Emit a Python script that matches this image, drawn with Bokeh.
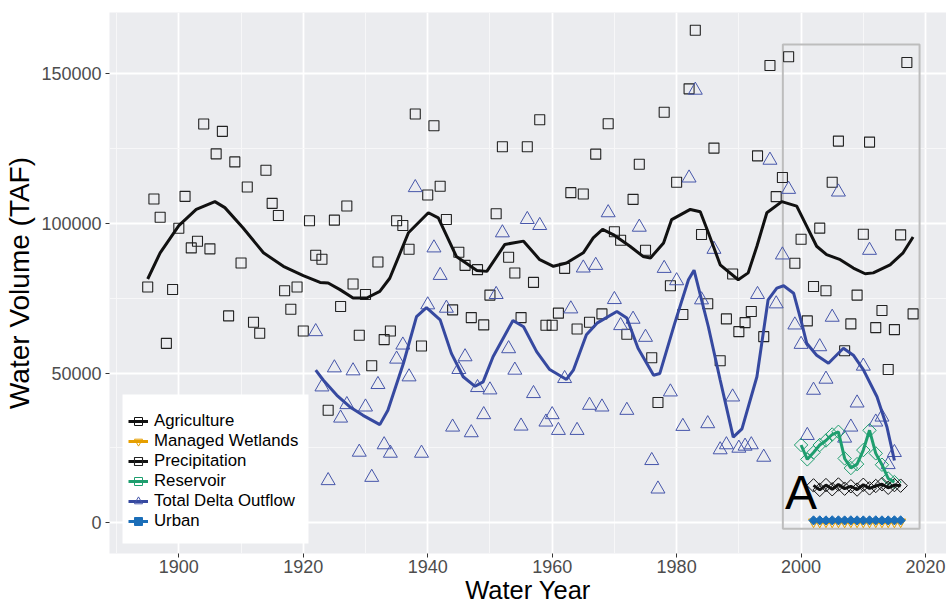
import numpy as np
from bokeh.plotting import figure
from bokeh.models import (Range1d, FixedTicker, Legend, LegendItem, Label,
                          NumeralTickFormatter, BoxAnnotation)
from bokeh.embed import file_html
from bokeh.resources import INLINE

# ---------------- data ----------------
precip_years = list(range(1895, 2019))
precip_values = [
    78760, 108160, 102100, 59960, 77960, 98430, 109070, 91850, 94070, 133230,
    91520, 123270, 130780, 69130, 120580, 86820, 112200, 67010, 63310, 117800,
    106720, 102690, 77520, 71370, 78760, 64100, 100900, 89380, 88040, 37590,
    101120, 72260, 105820, 79760, 62640, 76290, 52460, 87150, 61200, 64100,
    100900, 99340, 91390, 136590, 59070, 109510, 132670, 112430, 101350, 71150,
    90380, 86020, 68560, 84570, 66110, 76080, 103260, 125620, 88700, 83460,
    68560, 125620, 80310, 134680, 66010, 66010, 70040, 85010, 110300, 64770,
    109850, 67010, 123170, 69800, 133340, 97220, 94400, 62990, 108060, 119810,
    91050, 55140, 40170, 137160, 79200, 113770, 69580, 144980, 164550, 96320,
    73160, 125180, 54130, 68130, 83120, 63870, 66890, 70590, 122600, 62200,
    152800, 108960, 115340, 155720, 86690, 94740, 67460, 78970, 98440, 77520,
    113770, 127530, 57500, 66450, 76080, 96420, 127190, 65210, 70920, 51240,
    64540, 96200, 153810, 69800]

outflow_years = list(range(1922, 2016))
outflow_values = [
    63870, 45410, 14100, 51780, 35000, 39500, 50780, 23600, 38700, 15200,
    46210, 26080, 23260, 54700, 59400, 48770, 111990, 23260, 72830, 91850,
    82660, 71710, 31990, 51240, 55480, 30100, 45200, 36140, 44410, 76290,
    96890, 58170, 51010, 32330, 101350, 43190, 99340, 33670, 36140, 30880,
    48210, 71480, 30880, 85140, 39270, 86020, 38700, 103600, 74600, 65890,
    37590, 68020, 98770, 61980, 20810, 11300, 85010, 43730, 80880, 32220,
    115210, 144540, 74500, 33120, 91390, 24400, 26080, 42050, 24940, 25610,
    26080, 76290, 21920, 121150, 73160, 89500, 111420, 66110, 59630, 29200,
    44300, 58840, 47990, 68690, 110520, 28300, 31990, 40040, 52350, 91050,
    33670, 35340, 19460, 23500]

reservoir_years = list(range(2000, 2016))
reservoir_values = [26000, 21200, 23500, 26000, 27500, 29500, 30400, 21500,
                    18300, 19600, 24300, 30900, 23200, 19400, 14800, 13600]

agri_years = list(range(2002, 2017))
agri_values = [12500, 11000, 12600, 11200, 12800, 11400, 12200, 11100,
               12700, 11500, 12300, 12900, 11700, 12600, 12400]

wetland_years = list(range(2002, 2017))
wetland_values = [300, 250, 320, 280, 300, 260, 310, 290, 300, 270,
                  320, 290, 300, 280, 310]

urban_years = list(range(2002, 2017))
urban_values = [800, 820, 790, 830, 810, 780, 820, 800, 790, 810,
                830, 800, 790, 820, 800]

# smoothed trend curves
precip_smooth_years = [1895, 1897, 1900, 1902.8, 1905.8, 1907.4, 1910.3, 1913.6,
                       1916.8, 1920, 1922.7, 1924, 1925.9, 1928, 1930.2, 1932.3,
                       1933.9, 1936.9, 1940.1, 1941.7, 1944.6, 1947.9, 1949.5,
                       1952.4, 1955.4, 1958, 1960.2, 1962.3, 1965, 1966.6, 1968.1,
                       1969.8, 1972.5, 1974.6, 1975.8, 1977.9, 1979.2, 1982.2,
                       1983.8, 1985.1, 1987, 1989.9, 1991.5, 1992.9, 1994.5,
                       1996.9, 1999.3, 2000.9, 2002.5, 2004.1, 2006.3, 2008.4,
                       2010.3, 2011.6, 2014.3, 2016.4, 2018]
precip_smooth_values = [81450, 90200, 99300, 104700, 107300, 105300, 98600, 90200,
                        85700, 82600, 80300, 80100, 77900, 75100, 75100, 77300,
                        81700, 96900, 103600, 101900, 89000, 84300, 84000,
                        93000, 94100, 87900, 85700, 86800, 90200, 95200, 98000,
                        96300, 92400, 89000, 88500, 93500, 101300, 104700,
                        103900, 96900, 86200, 81200, 83500, 92400, 103600,
                        107300, 105800, 99100, 92400, 89600, 87900, 85100,
                        83200, 83500, 86200, 90200, 95500]

outflow_smooth_years = [1922, 1923.2, 1925.4, 1927.5, 1929.6, 1932.3, 1933.6,
                        1936.1, 1938.2, 1939.8, 1942, 1943.8, 1945.7, 1947.6,
                        1948.9, 1950.5, 1953.7, 1955.4, 1957.5, 1959.6, 1962.3,
                        1963.4, 1965.5, 1967.2, 1970.4, 1972, 1973.8, 1976.3,
                        1977.3, 1979.7, 1981.9, 1982.8, 1985.1, 1987, 1989.1,
                        1990.5, 1992.9, 1994.7, 1996.1, 1997.2, 1998.8, 2000.1,
                        2000.9, 2002.5, 2004.4, 2006.8, 2008.4, 2010, 2012.2,
                        2013.8, 2015]
outflow_smooth_values = [51000, 47700, 42600, 38700, 35900, 32800, 37600,
                         53300, 68900, 71900, 67800, 56600, 48800, 45600,
                         47100, 55500, 67600, 65500, 57200, 51200, 47900,
                         51000, 62800, 66700, 70600, 68400, 58300, 49300,
                         49900, 66700, 81200, 84400, 65500, 47700, 28600,
                         31400, 48800, 74500, 78400, 79200, 76700, 66700,
                         60000, 56000, 53300, 58300, 56000, 51200, 42100,
                         32000, 20800]

x_ticks = [1900, 1920, 1940, 1960, 1980, 2000, 2020]
x_minor = [1890, 1910, 1930, 1950, 1970, 1990, 2010]
y_ticks = [0, 50000, 100000, 150000]
y_minor = [25000, 75000, 125000]

box_left, box_right, box_bottom, box_top = 1997.07, 2019.04, -2000, 159800
panel_label = "A"

# ---------------- figure ----------------
FONT = "Liberation Sans"
p = figure(width=946, height=607, output_backend="svg", toolbar_location=None,
           x_range=Range1d(1888.86, 2023.37), y_range=Range1d(-10257, 170490),
           min_border_left=109, min_border_right=0, min_border_top=12,
           min_border_bottom=54)
p.background_fill_color = "#EBECEF"
p.border_fill_color = "white"
p.outline_line_color = None

for ax, ticks, minor in ((p.xaxis, x_ticks, x_minor), (p.yaxis, y_ticks, y_minor)):
    ax.ticker = FixedTicker(ticks=ticks, minor_ticks=minor)
    ax.formatter = NumeralTickFormatter(format="0")
    ax.axis_line_color = None
    ax.major_tick_line_color = "#333333"
    ax.major_tick_line_width = 1
    ax.major_tick_out = 4
    ax.major_tick_in = 0
    ax.minor_tick_line_color = None
    ax.major_label_text_font = FONT
    ax.major_label_text_font_size = "18px"
    ax.major_label_text_color = "#4D4D4D"
    ax.axis_label_text_font = FONT
    ax.axis_label_text_font_style = "normal"
    ax.axis_label_text_color = "black"

p.xaxis.major_label_standoff = 2
p.xaxis.axis_label = "Water Year"
p.xaxis.axis_label_text_font_size = "25.5px"
p.xaxis.axis_label_standoff = 0

p.yaxis.major_label_standoff = 4
p.yaxis.axis_label = "Water Volume (TAF)"
p.yaxis.axis_label_text_font_size = "28px"
p.yaxis.axis_label_standoff = 3

for g, ticks, minor in ((p.xgrid, x_ticks, x_minor), (p.ygrid, y_ticks, y_minor)):
    g.ticker = FixedTicker(ticks=ticks, minor_ticks=minor)
    g.grid_line_color = "white"
    g.grid_line_width = 1.8
    g.minor_grid_line_color = "#F7F7F8"
    g.minor_grid_line_width = 1

# highlight box
p.quad(left=[box_left], right=[box_right], bottom=[box_bottom], top=[box_top],
       fill_color=None, line_color="#BDBDBD", line_width=2)

C_BLACK = "#111111"
C_WET = "#E69F00"
C_RES = "#1E9E6E"
C_TDO = "#3649A0"
C_URB = "#1B6EB8"
DIAM = np.pi / 4

pt_pre = p.scatter(precip_years, precip_values, marker="square", size=10,
                   fill_color=None, line_color="#222222", line_width=1.1)
pt_tdo = p.scatter(outflow_years, outflow_values, marker="triangle", size=14,
                   fill_color=None, line_color="#4656AA", line_width=1)
pt_res = p.scatter(reservoir_years, reservoir_values, marker="square", angle=DIAM,
                   size=9.5, fill_color=None, line_color=C_RES, line_width=1)
pt_agr = p.scatter(agri_years, agri_values, marker="square", angle=DIAM,
                   size=9.5, fill_color=None, line_color=C_BLACK, line_width=1)
pt_wet = p.scatter(wetland_years, wetland_values, marker="inverted_triangle", size=10,
                   fill_color=None, line_color=C_WET, line_width=1)

ln_pre = p.line(precip_smooth_years, precip_smooth_values, line_color=C_BLACK, line_width=3)
ln_tdo = p.line(outflow_smooth_years, outflow_smooth_values, line_color=C_TDO, line_width=3)
ln_res = p.line(reservoir_years, reservoir_values, line_color=C_RES, line_width=3)
ln_agr = p.line(agri_years, agri_values, line_color=C_BLACK, line_width=3)
ln_wet = p.line(wetland_years, wetland_values, line_color=C_WET, line_width=3)
ln_urb = p.line(urban_years, urban_values, line_color=C_URB, line_width=3)
pt_urb = p.scatter(urban_years, urban_values, marker="square", angle=DIAM, size=6.5,
                   fill_color=C_URB, line_color=C_URB, line_width=1)

p.add_layout(Label(x=2000, y=9960, text=panel_label, text_font=FONT,
                   text_font_size="48px", text_color="black",
                   text_align="center", text_baseline="middle"))

# white panel behind the legend (ggplot-style legend box)
p.add_layout(BoxAnnotation(left=1890.95, right=1920.84, bottom=-6916, top=42870,
                           fill_color="white", fill_alpha=1, line_color=None))

legend = Legend(items=[
    LegendItem(label="Agriculture", renderers=[ln_agr, pt_agr]),
    LegendItem(label="Managed Wetlands", renderers=[ln_wet, pt_wet]),
    LegendItem(label="Precipitation", renderers=[ln_pre, pt_pre]),
    LegendItem(label="Reservoir", renderers=[ln_res, pt_res]),
    LegendItem(label="Total Delta Outflow", renderers=[ln_tdo, pt_tdo]),
    LegendItem(label="Urban", renderers=[ln_urb, pt_urb]),
], location=(19, 22))
legend.background_fill_color = "white"
legend.background_fill_alpha = 1
legend.border_line_color = None
legend.label_text_font = FONT
legend.label_text_font_size = "16.8px"
legend.label_text_color = "black"
legend.glyph_width = 20
legend.glyph_height = 20
legend.label_height = 20
legend.spacing = 0
legend.padding = 2
legend.margin = 0
legend.label_standoff = 6
p.add_layout(legend)

open("out.html", "w").write(file_html(p, INLINE))
